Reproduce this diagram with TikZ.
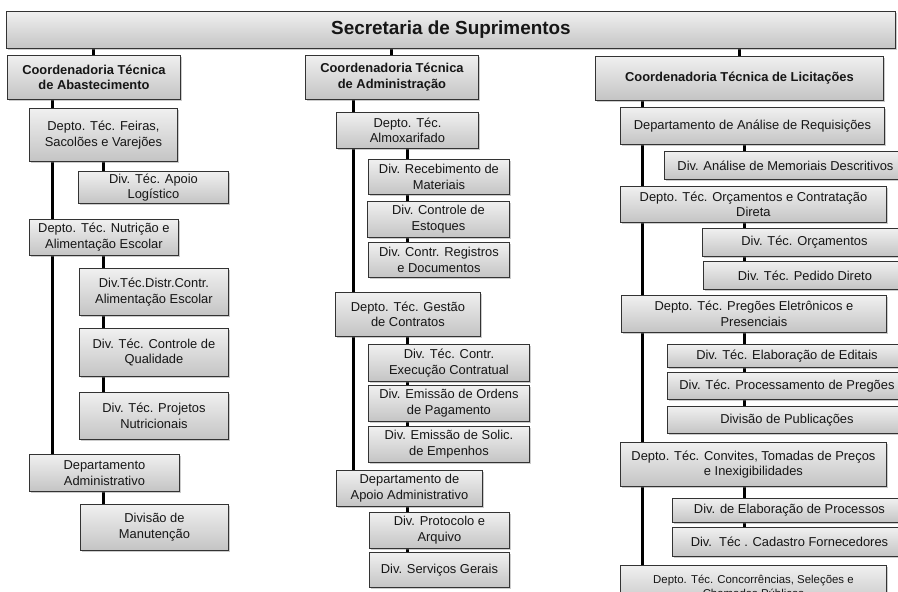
\documentclass[tikz,border=0pt]{standalone}
\usepackage{fontspec}
\setmainfont{Liberation Sans}
\usetikzlibrary{shadows,backgrounds}
\definecolor{boxtop}{HTML}{F0F0F0}
\definecolor{boxbot}{HTML}{C4C4C4}
\definecolor{boxline}{HTML}{333333}
\definecolor{txt}{HTML}{161616}
\tikzset{
 orgbox/.style={draw=boxline, line width=0.9pt, top color=boxtop, bottom color=boxbot,
   drop shadow={shadow xshift=1.8pt, shadow yshift=-1.8pt, opacity=0.4},
   align=center, inner sep=1pt, text=txt, font=\fontsize{12.9}{15.7}\selectfont, anchor=north west},
 titlebox/.style={orgbox, font=\fontsize{18.9}{21}\selectfont\bfseries},
 coordbox/.style={orgbox, font=\fontsize{12.9}{15.7}\selectfont\bfseries},
 smallbox/.style={orgbox, font=\fontsize{11.4}{14}\selectfont},
 link/.style={line width=3pt, black},
}
\newcommand\orgnode[7]{%
 \pgfmathsetmacro\onw{#5-#3}\pgfmathsetmacro\onh{#6-#4}%
 \node[#1, minimum width=\onw pt, minimum height=\onh pt] (#2) at (#3,#4) {#7};}
\begin{document}
\begin{tikzpicture}[x=1pt,y=-1pt]
\useasboundingbox (0,0) rectangle (898,592);
\clip (0,0) rectangle (898,592);
% top
\orgnode{titlebox}{top}{6}{11}{895}{48}{Secretaria de Suprimentos}
% coordinators
\orgnode{coordbox}{c1}{7}{55}{180}{99}{Coordenadoria Técnica\\de Abastecimento}
\orgnode{coordbox}{c2}{305}{55}{478}{99}{Coordenadoria Técnica\\de Administração}
\orgnode{coordbox}{c3}{595}{56}{883}{100}{Coordenadoria Técnica de Licitações}
% left column
\orgnode{orgbox}{a1}{29}{108}{177}{161}{Depto. Téc. Feiras,\\Sacolões e Varejões}
\orgnode{orgbox}{a11}{78}{171}{228}{203}{Div. Téc. Apoio\\Logístico}
\orgnode{orgbox}{a2}{29}{219}{178}{255}{Depto. Téc. Nutrição e\\Alimentação Escolar}
\orgnode{orgbox}{a21}{79}{268}{228}{315}{Div.Téc.Distr.Contr.\\Alimentação Escolar}
\orgnode{orgbox}{a22}{79}{328}{228}{376}{Div. Téc. Controle de\\Qualidade}
\orgnode{orgbox}{a23}{79}{392}{228}{439}{Div. Téc. Projetos\\Nutricionais}
\orgnode{orgbox}{a3}{29}{454}{179}{491}{Departamento\\Administrativo}
\orgnode{orgbox}{a31}{80}{504}{228}{550}{Divisão de\\Manutenção}
% middle column
\orgnode{orgbox}{b1}{336}{112}{478}{148}{Depto. Téc.\\Almoxarifado}
\orgnode{orgbox}{b11}{368}{159}{509}{194}{Div. Recebimento de\\Materiais}
\orgnode{orgbox}{b12}{367}{201}{509}{237}{Div. Controle de\\Estoques}
\orgnode{orgbox}{b13}{368}{242}{509}{277}{Div. Contr. Registros\\e Documentos}
\orgnode{orgbox}{b2}{335}{292}{480}{336}{Depto. Téc. Gestão\\de Contratos}
\orgnode{orgbox}{b21}{368}{344}{529}{381}{Div. Téc. Contr.\\Execução Contratual}
\orgnode{orgbox}{b22}{368}{385}{529}{421}{Div. Emissão de Ordens\\de Pagamento}
\orgnode{orgbox}{b23}{368}{426}{529}{462}{Div. Emissão de Solic.\\de Empenhos}
\orgnode{orgbox}{b3}{336}{470}{482}{506}{Departamento de\\Apoio Administrativo}
\orgnode{orgbox}{b31}{369}{512}{509}{548}{Div. Protocolo e\\Arquivo}
\orgnode{orgbox}{b32}{369}{552}{509}{587}{Div. Serviços Gerais}
% right column
\orgnode{orgbox}{r1}{620}{107}{884}{144}{Departamento de Análise de Requisições}
\orgnode{orgbox}{r11}{664}{151}{906}{179}{Div. Análise de Memoriais Descritivos}
\orgnode{orgbox}{r2}{620}{186}{886}{222}{Depto. Téc. Orçamentos e Contratação\\Direta}
\orgnode{orgbox}{r21}{702}{228}{906}{256}{Div. Téc. Orçamentos}
\orgnode{orgbox}{r22}{703}{261}{906}{289}{Div. Téc. Pedido Direto}
\orgnode{orgbox}{r3}{621}{295}{886}{332}{Depto. Téc. Pregões Eletrônicos e\\Presenciais}
\orgnode{orgbox}{r31}{667}{344}{906}{367}{Div. Téc. Elaboração de Editais}
\orgnode{orgbox}{r32}{667}{372}{906}{399}{Div. Téc. Processamento de Pregões}
\orgnode{orgbox}{r33}{667}{406}{906}{433}{Divisão de Publicações}
\orgnode{orgbox}{r4}{620}{442}{886}{486}{Depto. Téc. Convites, Tomadas de Preços\\e Inexigibilidades}
\orgnode{orgbox}{r41}{672}{498}{906}{522}{Div. de Elaboração de Processos}
\orgnode{orgbox}{r42}{672}{527}{906}{556}{Div.\ \ Téc . Cadastro Fornecedores}
\orgnode{smallbox}{r5}{620}{565}{886}{606}{Depto. Téc. Concorrências, Seleções e\\Chamadas Públicas}
% connector columns
\coordinate (xa) at (52,0);
\coordinate (xad) at (103,0);
\coordinate (xb) at (353,0);
\coordinate (xbd) at (407,0);
\coordinate (xr) at (642,0);
\coordinate (xrd) at (744,0);
\begin{scope}[on background layer]
\draw[link] (top.south -| c1.north) -- (c1.north);
\draw[link] (top.south -| c2.north) -- (c2.north);
\draw[link] (top.south -| c3.north) -- (c3.north);
\draw[link] (c1.south -| xa) -- (a3.north -| xa);
\draw[link] (a1.south -| xad) -- (a11.north -| xad);
\draw[link] (a2.south -| xad) -- (a23.north -| xad);
\draw[link] (a3.south -| xad) -- (a31.north -| xad);
\draw[link] (c2.south -| xb) -- (b3.north -| xb);
\draw[link] (b1.south -| xbd) -- (b13.north -| xbd);
\draw[link] (b2.south -| xbd) -- (b23.north -| xbd);
\draw[link] (b3.south -| xbd) -- (b32.north -| xbd);
\draw[link] (c3.south -| xr) -- (r5.north -| xr);
\draw[link] (r1.south -| xrd) -- (r11.north -| xrd);
\draw[link] (r2.south -| xrd) -- (r22.north -| xrd);
\draw[link] (r3.south -| xrd) -- (r33.north -| xrd);
\draw[link] (r4.south -| xrd) -- (r42.north -| xrd);
\end{scope}
\end{tikzpicture}
\end{document}
